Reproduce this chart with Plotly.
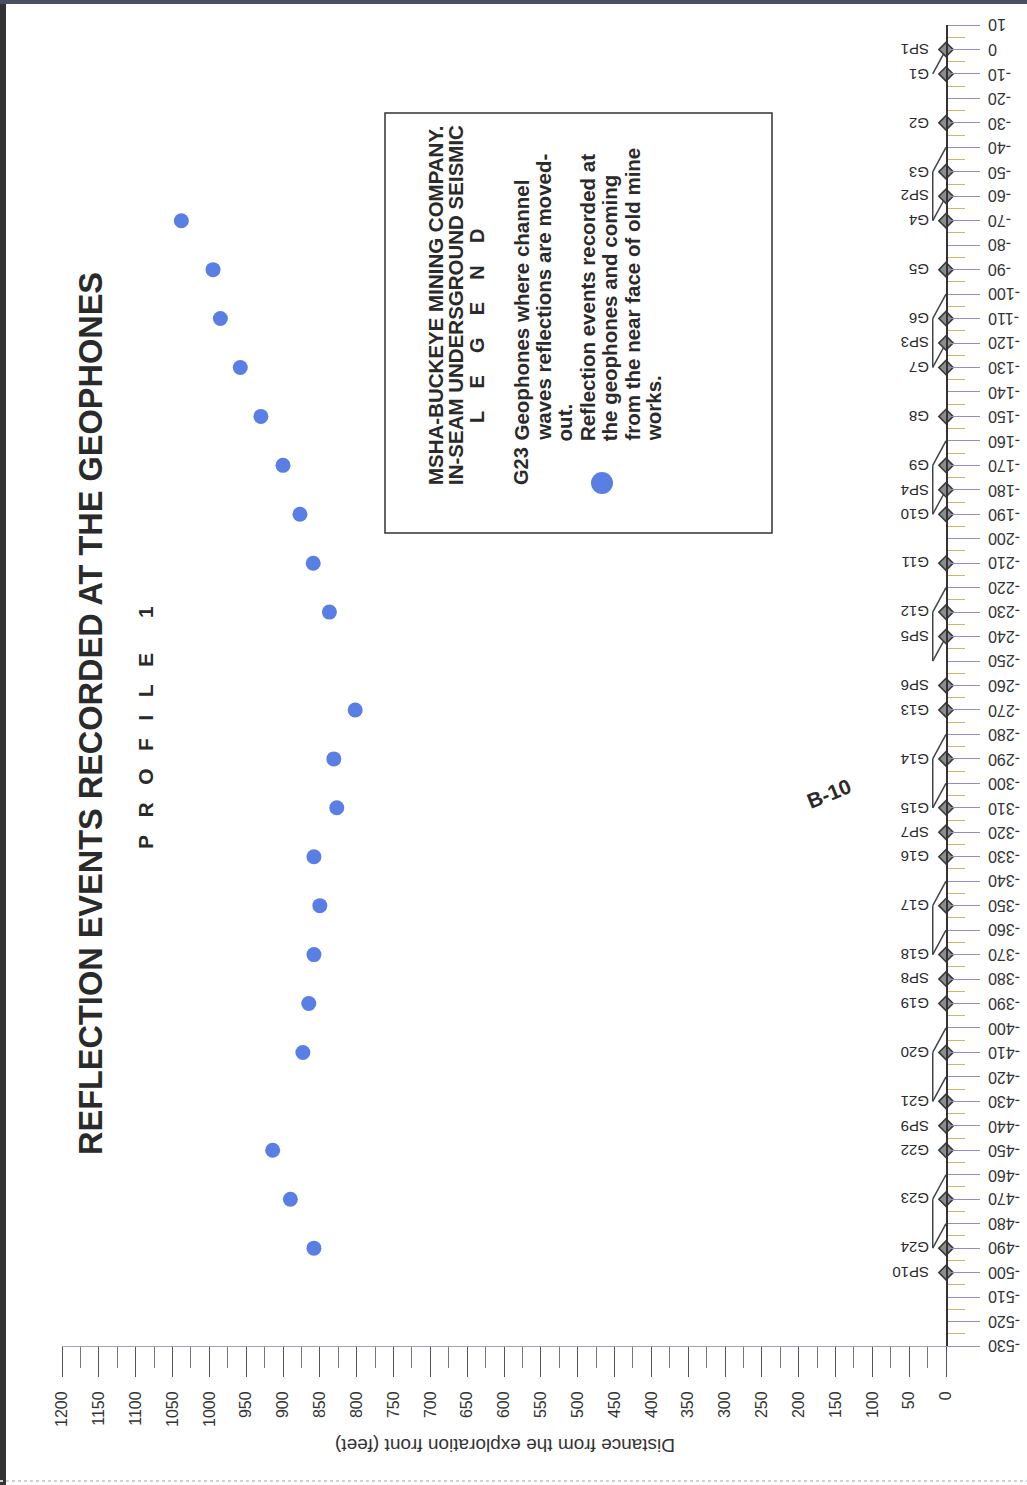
import plotly.graph_objects as go

# ---------------- data ----------------
geophone_names = ["SP1", "G1", "G2", "G3", "SP2", "G4", "G5", "G6", "SP3", "G7", "G8", "G9",
                  "SP4", "G10", "G11", "G12", "SP5", "SP6", "G13", "G14", "G15", "SP7", "G16",
                  "G17", "G18", "SP8", "G19", "G20", "G21", "SP9", "G22", "G23", "G24", "SP10"]
geophone_pos = [0, -10, -30, -50, -60, -70, -90, -110, -120, -130, -150, -170,
                -180, -190, -210, -230, -240, -260, -270, -290, -310, -320, -330,
                -350, -370, -380, -390, -410, -430, -440, -450, -470, -490, -500]

event_geophones = ["G4", "G5", "G6", "G7", "G8", "G9", "G10", "G11", "G12", "G13", "G14",
                   "G15", "G16", "G17", "G18", "G19", "G20", "G22", "G23", "G24"]
event_pos = [-70, -90, -110, -130, -150, -170, -190, -210, -230, -270, -290,
             -310, -330, -350, -370, -390, -410, -450, -470, -490]
event_distance = [1038, 995, 985, 958, 930, 900, 877, 859, 837, 802, 831,
                  827, 858, 850, 858, 865, 873, 914, 890, 858]

# leader lines: label level -> point on the cable line
slash_from = [-10, -50, -70, -110, -130, -170, -190, -230, -250, -290, -310, -350, -370, -410, -430, -470, -490]
slash_to = [0, -40, -60, -100, -120, -160, -180, -220, -240, -280, -300, -340, -360, -400, -420, -460, -480]
bracket_top = [-50, -110, -170, -230, -290, -350, -410, -470]
bracket_bottom = [-70, -130, -190, -250, -310, -370, -430, -490]

x_tickvals = [0, 50, 100, 150, 200, 250, 300, 350, 400, 450, 500, 550, 600,
              650, 700, 750, 800, 850, 900, 950, 1000, 1050, 1100, 1150, 1200]
y_tickvals = [10, 0, -10, -20, -30, -40, -50, -60, -70, -80, -90, -100, -110, -120, -130,
              -140, -150, -160, -170, -180, -190, -200, -210, -220, -230, -240, -250, -260,
              -270, -280, -290, -300, -310, -320, -330, -340, -350, -360, -370, -380, -390,
              -400, -410, -420, -430, -440, -450, -460, -470, -480, -490, -500, -510, -520, -530]
y_ticktext = [str(v) for v in y_tickvals]

title_text = "REFLECTION EVENTS RECORDED AT THE GEOPHONES"
subtitle_letters = ["P", "R", "O", "F", "I", "L", "E", "", "1"]
axis_title = "Distance from the exploration front (feet)"
legend_title = ["MSHA-BUCKEYE MINING COMPANY.", "IN-SEAM UNDERSGROUND SEISMIC"]
legend_word = "LEGEND"
legend_body_1 = ["Geophones where channel", "waves reflections are moved-", "out."]
legend_body_2 = ["Reflection events recorded at", "the geophones and coming",
                 "from the near face of old mine", "works."]

# ---------------- layout helpers ----------------
W, H = 1027, 1485
L, R, T, B = 62, 946, 25, 1346  # plot area in pixels


def px(x):
    return (x - L) / (R - L)


def py(y):
    return (B - y) / (B - T)


FONT = "Liberation Sans, Arial, sans-serif"
DOT = "#5a7fe4"
INK = "#2a2a2a"
NB = "\u00a0"

fig = go.Figure()

# leader lines
lx, ly = [], []
label_edge = 18
for a, b in zip(slash_from, slash_to):
    lx += [label_edge, 0, None]
    ly += [a, b, None]
for a, b in zip(bracket_top, bracket_bottom):
    lx += [label_edge, label_edge, None]
    ly += [a, b, None]
fig.add_trace(go.Scatter(x=lx, y=ly, mode="lines", line=dict(color="#444", width=1.5),
                         hoverinfo="skip", showlegend=False, cliponaxis=False))

# geophone markers
fig.add_trace(go.Scatter(x=[0] * len(geophone_pos), y=geophone_pos, mode="markers",
                         marker=dict(symbol="diamond", size=11, color="#8c8c8c",
                                     line=dict(color="#3a3a3a", width=1.6)),
                         text=geophone_names, showlegend=False, cliponaxis=False))

# reflection events
fig.add_trace(go.Scatter(x=event_distance, y=event_pos, mode="markers",
                         marker=dict(size=15, color=DOT),
                         text=event_geophones, showlegend=False))

# geophone labels (upside down)
for name, pos in zip(geophone_names, geophone_pos):
    fig.add_annotation(x=0, y=pos, xref="x", yref="y", text=name, showarrow=False,
                       textangle=180, xanchor="right", yanchor="middle", xshift=-15,
                       font=dict(family=FONT, size=15, color=INK))

# profile-position tick labels (upside down, left aligned)
for v, t in zip(y_tickvals, y_ticktext):
    fig.add_annotation(x=1, y=v, xref="paper", yref="y", text=t, showarrow=False,
                       textangle=180, xanchor="left", yanchor="middle", xshift=40,
                       font=dict(family=FONT, size=16, color="#333"))

# main title and profile
fig.add_annotation(x=px(91), y=py(714), xref="paper", yref="paper", text="<b>%s</b>" % title_text,
                   showarrow=False, textangle=-90, font=dict(family=FONT, size=32.5, color=INK),
                   xanchor="center", yanchor="middle")
fig.add_annotation(x=px(146), y=py(728), xref="paper", yref="paper",
                   text="<b>" + (NB * 3).join(subtitle_letters) + "</b>",
                   showarrow=False, textangle=-90, font=dict(family=FONT, size=21, color=INK),
                   xanchor="center", yanchor="middle")

# legend box
fig.add_shape(type="rect", xref="paper", yref="paper", x0=px(385), x1=px(772), y0=py(533), y1=py(113),
              line=dict(color="#333", width=1.5), fillcolor="rgba(0,0,0,0)")
for i, t in enumerate(legend_title):
    fig.add_annotation(x=px(435 + 20 * i), y=py(487), xref="paper", yref="paper", text="<b>%s</b>" % t,
                       showarrow=False, textangle=-90, xanchor="center", yanchor="bottom",
                       font=dict(family=FONT, size=20.5, color=INK))
fig.add_annotation(x=px(477), y=py(326), xref="paper", yref="paper",
                   text="<b>" + (NB * 4).join(list(legend_word)) + "</b>",
                   showarrow=False, textangle=-90, xanchor="center", yanchor="middle",
                   font=dict(family=FONT, size=20, color=INK))
fig.add_annotation(x=px(521), y=py(487), xref="paper", yref="paper", text="<b>G23</b>",
                   showarrow=False, textangle=-90, xanchor="center", yanchor="bottom",
                   font=dict(family=FONT, size=20, color=INK))
body = legend_body_1 + legend_body_2
for i, t in enumerate(body):
    fig.add_annotation(x=px(521 + 22.2 * i), y=py(443), xref="paper", yref="paper", text="<b>%s</b>" % t,
                       showarrow=False, textangle=-90, xanchor="center", yanchor="bottom",
                       font=dict(family=FONT, size=20.5, color=INK))
# legend dot
fig.add_shape(type="circle", xref="paper", yref="paper", x0=px(591), x1=px(613), y0=py(494), y1=py(472),
              line=dict(width=0), fillcolor=DOT)

# B-10
fig.add_annotation(x=px(857), y=py(793), xref="paper", yref="paper", text="<b>B-10</b>",
                   showarrow=False, textangle=-22, font=dict(family=FONT, size=21, color=INK))

# axis title (upside down)
fig.add_annotation(x=px(505), y=py(1458), xref="paper", yref="paper", text=axis_title,
                   showarrow=False, textangle=180, font=dict(family=FONT, size=19, color="#333"))

# page frame
fig.add_shape(type="line", xref="paper", yref="paper", x0=px(3), x1=px(3), y0=py(0), y1=py(1485),
              line=dict(color="#333", width=6))
fig.add_shape(type="line", xref="paper", yref="paper", x0=px(0), x1=px(1027), y0=py(2), y1=py(2),
              line=dict(color="#4a5060", width=4))
fig.add_shape(type="line", xref="paper", yref="paper", x0=px(0), x1=px(1027), y0=py(1481), y1=py(1481),
              line=dict(color="#c8d0d8", width=2, dash="dot"))

fig.update_layout(
    width=W, height=H,
    margin=dict(l=L, r=W - R, t=T, b=H - B, pad=0, autoexpand=False),
    paper_bgcolor="white", plot_bgcolor="white",
    showlegend=False,
    font=dict(family=FONT, color="#333"),
    xaxis=dict(range=[1200, 0], tickvals=x_tickvals, ticks="outside", ticklen=30,
               tickwidth=1, tickcolor="#555", tickangle=-90, showgrid=False, zeroline=False,
               showline=True, linecolor="#a49bd6", linewidth=1, automargin=False,
               tickfont=dict(family=FONT, size=16, color="#333"), ticklabelstandoff=8,
               minor=dict(dtick=25, ticks="outside", ticklen=21, tickcolor="#777", tickwidth=1)),
    yaxis=dict(range=[-530, 10], side="right", tickvals=y_tickvals, showticklabels=False,
               ticks="outside", ticklen=32, tickwidth=1, tickcolor="#8f8fd0",
               showgrid=False, zeroline=False, showline=True, linecolor="#333", linewidth=2,
               automargin=False,
               minor=dict(dtick=5, ticks="outside", ticklen=17, tickcolor="#c9b86a", tickwidth=1)),
)

fig.write_html("out.html", config={"displayModeBar": False},
               post_script="document.body.style.margin='0';document.body.style.overflow='hidden';")
